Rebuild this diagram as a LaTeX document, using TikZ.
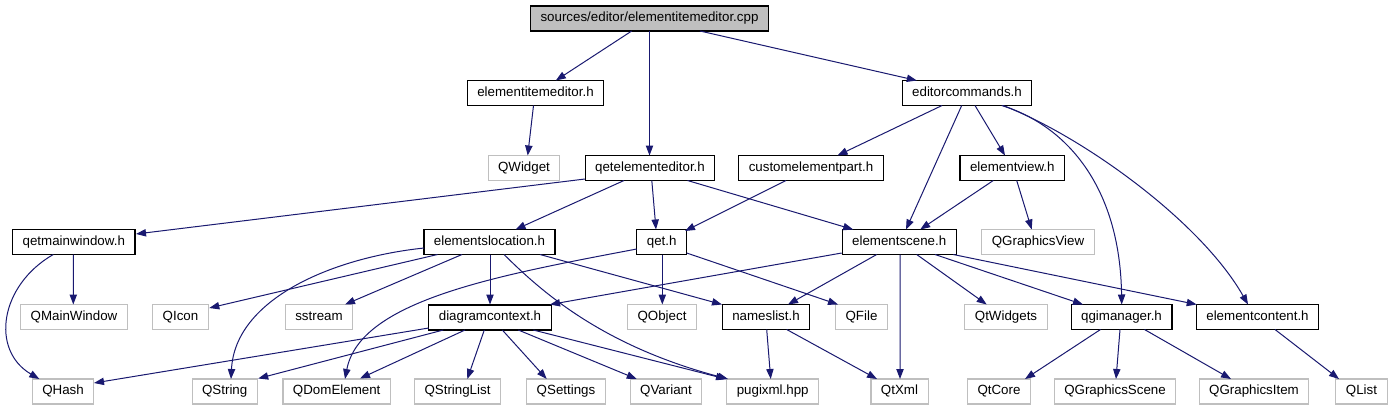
\documentclass[tikz,border=0pt]{standalone}
\usepackage{fontspec}
\setmainfont{Liberation Sans}
\usetikzlibrary{arrows.meta,calc}
\definecolor{navyedge}{HTML}{191970}
\definecolor{extgray}{HTML}{BFBFBF}
\newcommand{\edgeln}[6]{\draw[dep] ($(#1)+(#2,#3)$) -- ($(#4)+(#5,#6)$);}
\begin{document}
\begin{tikzpicture}[x=0.75pt,y=-0.75pt,
  box/.style={font=\fontsize{10pt}{12pt}\selectfont, inner xsep=7.5pt, inner ysep=0pt,
    minimum height=18.75pt, text height=7.2pt, text depth=2pt, fill=white},
  doc/.style={box, draw=black, line width=0.9pt},
  ext/.style={box, draw=extgray, line width=0.8pt},
  root/.style={box, draw=black, line width=0.9pt, fill=extgray},
  dep/.style={draw=navyedge, line width=0.75pt, -{Triangle[length=7.5pt,width=5.5pt]}, fill=none}]
\useasboundingbox[fill=white] (0,0) rectangle (1394,411);
% row 1
\node[root] (cpp) at (649.5,18.5) {sources/editor/elementitemeditor.cpp};
% row 2
\node[doc] (eie) at (535.5,93) {elementitemeditor.h};
\node[doc] (edc) at (967,93) {editorcommands.h};
% row 3
\node[ext] (qwidget) at (524,168) {QWidget};
\node[doc] (qee) at (650,168) {qetelementeditor.h};
\node[doc] (cep) at (811,168) {customelementpart.h};
\node[doc] (ev) at (1012.3,168) {elementview.h};
% row 4
\node[doc] (qmw) at (73.8,242) {qetmainwindow.h};
\node[doc] (el) at (489.5,242) {elementslocation.h};
\node[doc] (qet) at (661.7,242) {qet.h};
\node[doc] (es) at (899.2,242) {elementscene.h};
\node[ext] (qgv) at (1038,242) {QGraphicsView};
% row 5
\node[ext] (qmainw) at (74,317) {QMainWindow};
\node[ext] (qicon) at (180.5,317) {QIcon};
\node[ext] (sstream) at (319,317) {sstream};
\node[doc] (dc) at (490,317.5) {diagramcontext.h};
\node[ext] (qobject) at (662,317) {QObject};
\node[doc] (nl) at (766,317) {nameslist.h};
\node[ext] (qfile) at (861.5,317) {QFile};
\node[ext] (qtw) at (1006,317) {QtWidgets};
\node[doc] (qgim) at (1121.5,317) {qgimanager.h};
\node[doc] (ec) at (1257.5,317) {elementcontent.h};
% row 6
\node[ext] (qhash) at (63,391.5) {QHash};
\node[ext] (qstring) at (224.7,391.5) {QString};
\node[ext] (qdom) at (336.7,391.5) {QDomElement};
\node[ext] (qsl) at (457.5,391.5) {QStringList};
\node[ext] (qsettings) at (566,391.5) {QSettings};
\node[ext] (qvariant) at (666,391.5) {QVariant};
\node[ext] (pugi) at (772.7,391.5) {pugixml.hpp};
\node[ext] (qtxml) at (899.5,391.5) {QtXml};
\node[ext] (qtcore) at (999,391.5) {QtCore};
\node[ext] (qgs) at (1115,391.5) {QGraphicsScene};
\node[ext] (qgi) at (1254,391.5) {QGraphicsItem};
\node[ext] (qlist) at (1361.5,391.5) {QList};
% edges
\edgeln{cpp}{-17.8}{12.5}{eie}{20.3}{-12.5}
\edgeln{cpp}{0}{12.5}{qee}{-0.5}{-12.5}
\edgeln{cpp}{50.5}{12.5}{edc}{-50.2}{-12.5}
\edgeln{eie}{-2}{12.5}{qwidget}{3.7}{-12.5}
\edgeln{edc}{-25}{12.5}{cep}{26.5}{-12.5}
\edgeln{edc}{-5.3}{12.5}{es}{6.8}{-12.5}
\edgeln{edc}{8}{12.5}{ev}{-7.3}{-12.5}
\draw[dep] ($(edc)+(34.7,12.5)$) .. controls (1065,125) and (1120,185) .. ($(qgim)+(0.2,-12.5)$);
\draw[dep] ($(edc)+(36,12.5)$) .. controls (1080,135) and (1200,220) .. ($(ec)+(-9.5,-12.5)$);
\edgeln{qee}{-65}{11}{qmw}{62.2}{-8}
\edgeln{qee}{-26}{12.5}{el}{26}{-12.5}
\edgeln{qee}{1.8}{12.5}{qet}{-5.7}{-12.5}
\edgeln{qee}{37.5}{12.5}{es}{-46}{-12.5}
\edgeln{cep}{-25}{12.5}{qet}{23.3}{-11}
\edgeln{ev}{-19}{12.5}{es}{21}{-12.5}
\edgeln{ev}{4.4}{12.5}{qgv}{-6.3}{-12.5}
\edgeln{qmw}{-0.5}{12.5}{qmainw}{-0.7}{-12.5}
\draw[dep] ($(qmw)+(-20.5,12.5)$) .. controls (0,285) and (-10,350) .. ($(qhash)+(-23.7,-12.5)$);
\edgeln{el}{-52}{12.5}{qicon}{28.8}{-9}
\draw[dep] ($(el)+(-65.5,6)$) .. controls (330,258) and (235,300) .. ($(qstring)+(6.3,-12.5)$);
\edgeln{el}{-27.5}{12.5}{sstream}{26}{-12.5}
\edgeln{el}{0.5}{12.5}{dc}{0}{-13}
\draw[dep] ($(el)+(14.5,12.5)$) .. controls (540,290) and (600,345) .. ($(pugi)+(-44.7,-12.5)$);
\edgeln{el}{50.5}{12.5}{nl}{-44}{-12.5}
\draw[dep] ($(qet)+(-25,7)$) .. controls (500,275) and (360,300) .. ($(qdom)+(8.3,-12.5)$);
\edgeln{qet}{0.6}{12.5}{qobject}{0.3}{-12.5}
\edgeln{qet}{25}{11}{qfile}{-23.5}{-12.5}
\edgeln{es}{-57.5}{11}{dc}{60}{-13}
\edgeln{es}{-22.5}{12.5}{nl}{22}{-12.5}
\edgeln{es}{0.8}{12.5}{qtxml}{0.5}{-12.5}
\edgeln{es}{17.5}{12.5}{qtw}{-19.3}{-12.5}
\edgeln{es}{35.8}{12.5}{qgim}{-38.5}{-12.5}
\edgeln{es}{54}{12.5}{ec}{-60.8}{-12.5}
\edgeln{dc}{-61.3}{10.5}{qhash}{31}{-8.5}
\edgeln{dc}{-46.7}{12.5}{qstring}{33.5}{-13}
\edgeln{dc}{-25}{12.5}{qdom}{23.3}{-13}
\edgeln{dc}{-5.7}{12.5}{qsl}{9.8}{-12.5}
\edgeln{dc}{12.3}{12.5}{qsettings}{-19.3}{-12.5}
\edgeln{dc}{28.3}{12.5}{qvariant}{-29.3}{-12.5}
\edgeln{dc}{43.3}{12.5}{pugi}{-46.7}{-12.5}
\edgeln{nl}{0.7}{12.5}{pugi}{-2}{-12.5}
\edgeln{nl}{20.7}{12.5}{qtxml}{-22.5}{-12.5}
\edgeln{qgim}{-21}{12.5}{qtcore}{26}{-12.5}
\edgeln{qgim}{-1.5}{12.5}{qgs}{1}{-12.5}
\edgeln{qgim}{23}{12.5}{qgi}{-23}{-12.5}
\edgeln{ec}{17.5}{12.5}{qlist}{-22.5}{-12.5}
\end{tikzpicture}
\end{document}
